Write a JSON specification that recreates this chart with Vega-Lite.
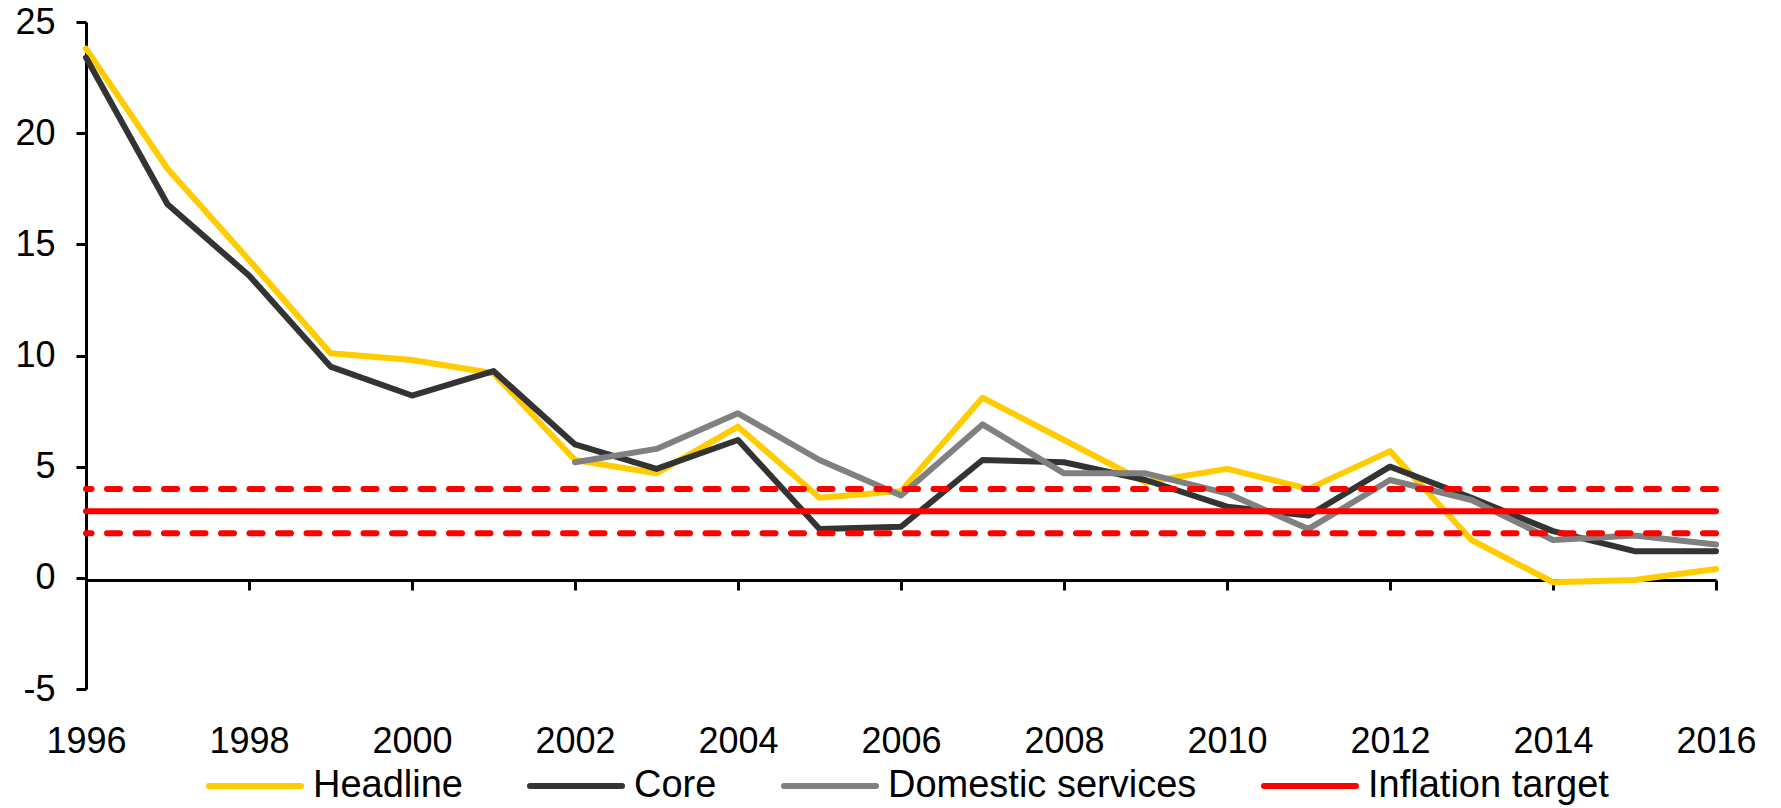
{
  "$schema": "https://vega.github.io/schema/vega-lite/v6.json",
  "width": 1630,
  "height": 667,
  "autosize": {"type": "none"},
  "padding": {"left": 86, "top": 22, "right": 65, "bottom": 119},
  "background": "white",
  "config": {
    "font": "Liberation Sans",
    "view": {"stroke": null},
    "axis": {
      "grid": false,
      "domainColor": "black",
      "domainWidth": 3,
      "tickColor": "black",
      "tickWidth": 3,
      "tickSize": 10,
      "labelColor": "black",
      "labelFontSize": 36,
      "labelFlush": false,
      "labelOverlap": false,
      "labelBound": false,
      "title": null
    }
  },
  "datasets": {
    "series": [
      {"series": "Headline", "year": 1996, "value": 23.8},
      {"series": "Headline", "year": 1997, "value": 18.4},
      {"series": "Headline", "year": 1998, "value": 14.3},
      {"series": "Headline", "year": 1999, "value": 10.1},
      {"series": "Headline", "year": 2000, "value": 9.8},
      {"series": "Headline", "year": 2001, "value": 9.2},
      {"series": "Headline", "year": 2002, "value": 5.3},
      {"series": "Headline", "year": 2003, "value": 4.7},
      {"series": "Headline", "year": 2004, "value": 6.8},
      {"series": "Headline", "year": 2005, "value": 3.6},
      {"series": "Headline", "year": 2006, "value": 3.9},
      {"series": "Headline", "year": 2007, "value": 8.1},
      {"series": "Headline", "year": 2008, "value": 6.2},
      {"series": "Headline", "year": 2009, "value": 4.3},
      {"series": "Headline", "year": 2010, "value": 4.9},
      {"series": "Headline", "year": 2011, "value": 4.0},
      {"series": "Headline", "year": 2012, "value": 5.7},
      {"series": "Headline", "year": 2013, "value": 1.7},
      {"series": "Headline", "year": 2014, "value": -0.2},
      {"series": "Headline", "year": 2015, "value": -0.1},
      {"series": "Headline", "year": 2016, "value": 0.4},
      {"series": "Core", "year": 1996, "value": 23.4},
      {"series": "Core", "year": 1997, "value": 16.8},
      {"series": "Core", "year": 1998, "value": 13.6},
      {"series": "Core", "year": 1999, "value": 9.5},
      {"series": "Core", "year": 2000, "value": 8.2},
      {"series": "Core", "year": 2001, "value": 9.3},
      {"series": "Core", "year": 2002, "value": 6.0},
      {"series": "Core", "year": 2003, "value": 4.9},
      {"series": "Core", "year": 2004, "value": 6.2},
      {"series": "Core", "year": 2005, "value": 2.2},
      {"series": "Core", "year": 2006, "value": 2.3},
      {"series": "Core", "year": 2007, "value": 5.3},
      {"series": "Core", "year": 2008, "value": 5.2},
      {"series": "Core", "year": 2009, "value": 4.4},
      {"series": "Core", "year": 2010, "value": 3.2},
      {"series": "Core", "year": 2011, "value": 2.8},
      {"series": "Core", "year": 2012, "value": 5.0},
      {"series": "Core", "year": 2013, "value": 3.6},
      {"series": "Core", "year": 2014, "value": 2.1},
      {"series": "Core", "year": 2015, "value": 1.2},
      {"series": "Core", "year": 2016, "value": 1.2},
      {"series": "Domestic services", "year": 2002, "value": 5.2},
      {"series": "Domestic services", "year": 2003, "value": 5.8},
      {"series": "Domestic services", "year": 2004, "value": 7.4},
      {"series": "Domestic services", "year": 2005, "value": 5.3},
      {"series": "Domestic services", "year": 2006, "value": 3.7},
      {"series": "Domestic services", "year": 2007, "value": 6.9},
      {"series": "Domestic services", "year": 2008, "value": 4.7},
      {"series": "Domestic services", "year": 2009, "value": 4.7},
      {"series": "Domestic services", "year": 2010, "value": 3.8},
      {"series": "Domestic services", "year": 2011, "value": 2.2},
      {"series": "Domestic services", "year": 2012, "value": 4.4},
      {"series": "Domestic services", "year": 2013, "value": 3.5},
      {"series": "Domestic services", "year": 2014, "value": 1.7},
      {"series": "Domestic services", "year": 2015, "value": 1.9},
      {"series": "Domestic services", "year": 2016, "value": 1.5}
    ],
    "target": [
      {"series": "Inflation target", "value": 3}
    ],
    "band": [
      {"bound": "lower", "value": 2},
      {"bound": "upper", "value": 4}
    ]
  },
  "layer": [
    {
      "data": {"name": "series"},
      "mark": {"type": "line", "strokeWidth": 6, "strokeCap": "round", "strokeJoin": "round"},
      "encoding": {
        "x": {
          "field": "year",
          "type": "quantitative",
          "scale": {"domain": [1996, 2016], "nice": false, "zero": false},
          "axis": {
            "values": [1996, 1998, 2000, 2002, 2004, 2006, 2008, 2010, 2012, 2014, 2016],
            "format": "d",
            "offset": -109,
            "labelPadding": 134
          }
        },
        "y": {
          "field": "value",
          "type": "quantitative",
          "scale": {"domain": [-5, 25], "nice": false, "zero": false},
          "axis": {
            "values": [-5, 0, 5, 10, 15, 20, 25],
            "labelExpr": "'' + datum.value",
            "labelPadding": 21
          }
        },
        "color": {
          "field": "series",
          "type": "nominal",
          "scale": {
            "domain": ["Headline", "Core", "Domestic services", "Inflation target"],
            "range": ["#FFCC00", "#333333", "#808080", "#FF0000"]
          },
          "legend": {
            "orient": "none",
            "direction": "horizontal",
            "legendX": 120,
            "legendY": 715,
            "title": null,
            "symbolType": "stroke",
            "symbolSize": 8464,
            "symbolStrokeWidth": 6,
            "symbolOpacity": 1,
            "labelFontSize": 38,
            "labelColor": "black",
            "labelOffset": 9,
            "labelLimit": 600,
            "columnPadding": 55,
            "padding": 0,
            "encode": {"symbols": {"update": {"strokeCap": {"value": "round"}}}}
          }
        }
      }
    },
    {
      "data": {"name": "band"},
      "mark": {"type": "rule", "color": "#FF0000", "strokeWidth": 6, "strokeDash": [13, 15.5], "strokeCap": "round"},
      "encoding": {
        "y": {"field": "value", "type": "quantitative"}
      }
    },
    {
      "data": {"name": "target"},
      "mark": {"type": "rule", "strokeWidth": 6, "strokeCap": "round"},
      "encoding": {
        "y": {"field": "value", "type": "quantitative"},
        "color": {"field": "series", "type": "nominal"}
      }
    }
  ]
}
